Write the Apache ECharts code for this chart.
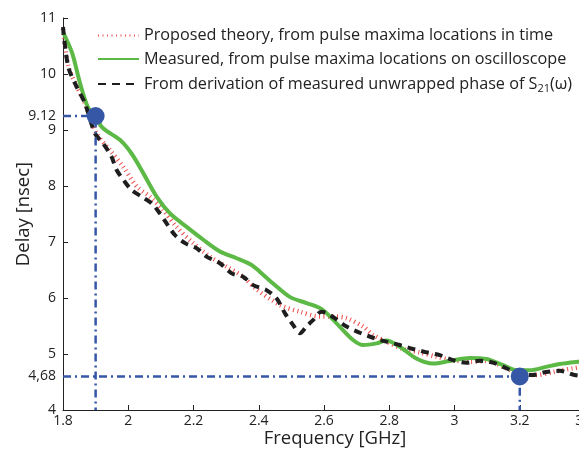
<!DOCTYPE html>
<html>
<head>
<meta charset="utf-8">
<script src="https://cdn.jsdelivr.net/npm/echarts@6/dist/echarts.min.js"></script>
<style>
html,body{margin:0;padding:0;background:#fff;}
#chart{width:579px;height:454px;}
</style>
</head>
<body>
<div id="chart"></div>
<script>
// ---- data ----
const xTicks = [1.8, 2, 2.2, 2.4, 2.6, 2.8, 3, 3.2, 3.4];
const yTicks = [4, 5, 6, 7, 8, 9, 10, 11];

const seriesNames = [
  'Proposed theory, from pulse maxima locations in time',
  'Measured, from pulse maxima locations on oscilloscope',
  'From derivation of measured unwrapped phase of S'
];

// Proposed theory (red dotted)
const theoryFreq  = [1.80, 1.816, 1.842, 1.867, 1.903, 1.944, 1.985, 2.026, 2.066, 2.107, 2.148, 2.199, 2.250, 2.301, 2.352, 2.39, 2.465, 2.526, 2.587, 2.628, 2.669, 2.720, 2.750, 2.791, 2.842, 2.893, 2.945, 2.995, 3.047, 3.098, 3.159, 3.200, 3.251, 3.302, 3.363, 3.40];
const theoryDelay = [10.80, 10.15, 9.78, 9.48, 8.94, 8.64, 8.34, 7.99, 7.81, 7.57, 7.27, 6.98, 6.74, 6.56, 6.38, 6.17, 5.875, 5.755, 5.67, 5.67, 5.64, 5.49, 5.34, 5.22, 5.09, 5.03, 4.95, 4.89, 4.86, 4.875, 4.745, 4.64, 4.625, 4.68, 4.745, 4.78];

// Measured on oscilloscope (green solid)
const measFreq  = [1.80, 1.828, 1.852, 1.876, 1.896, 1.923, 1.975, 2.010, 2.046, 2.087, 2.128, 2.179, 2.230, 2.281, 2.332, 2.378, 2.403, 2.444, 2.495, 2.546, 2.587, 2.608, 2.648, 2.689, 2.720, 2.761, 2.791, 2.832, 2.883, 2.934, 2.985, 3.047, 3.098, 3.149, 3.190, 3.231, 3.281, 3.322, 3.378, 3.40];
const measDelay = [10.75, 10.375, 9.84, 9.41, 9.25, 9.03, 8.82, 8.58, 8.23, 7.81, 7.51, 7.27, 7.04, 6.83, 6.71, 6.59, 6.47, 6.26, 6.02, 5.91, 5.82, 5.73, 5.49, 5.25, 5.16, 5.19, 5.24, 5.13, 4.92, 4.83, 4.875, 4.93, 4.91, 4.80, 4.71, 4.71, 4.77, 4.82, 4.86, 4.87];

// Derivation of unwrapped phase (black dashed)
const phaseFreq  = [1.80, 1.816, 1.842, 1.867, 1.898, 1.923, 1.949, 1.964, 1.985, 2.010, 2.041, 2.072, 2.097, 2.118, 2.143, 2.174, 2.209, 2.240, 2.281, 2.317, 2.352, 2.383, 2.424, 2.455, 2.480, 2.505, 2.526, 2.546, 2.567, 2.592, 2.608, 2.633, 2.669, 2.710, 2.750, 2.791, 2.832, 2.873, 2.914, 2.955, 2.995, 3.036, 3.077, 3.118, 3.159, 3.200, 3.240, 3.281, 3.322, 3.368, 3.40];
const phaseDelay = [10.84, 10.13, 9.77, 9.48, 8.94, 8.76, 8.52, 8.29, 8.11, 7.93, 7.81, 7.69, 7.51, 7.33, 7.125, 6.98, 6.89, 6.74, 6.62, 6.44, 6.38, 6.23, 6.14, 5.99, 5.73, 5.52, 5.37, 5.49, 5.61, 5.755, 5.73, 5.64, 5.49, 5.38, 5.29, 5.22, 5.16, 5.09, 5.03, 4.98, 4.89, 4.845, 4.88, 4.845, 4.745, 4.64, 4.625, 4.68, 4.70, 4.625, 4.60];

// Annotated points (position as drawn) and their labels
const markFreq  = [1.9, 3.2];
const markDelay = [9.25, 4.6];
const markLabel = ['9.12', '4,68'];

// ---- build ----
const zip = (a, b) => a.map((v, i) => [v, b[i]]);
const FONT = 'Open Sans';
const blue = '#3656a6';

const guideSeries = markFreq.map((f, i) => ({
  type: 'line', silent: true, symbol: 'none', z: 5,
  data: [[xTicks[0], markDelay[i]], [f, markDelay[i]], [f, yTicks[0]]],
  lineStyle: { color: blue, width: 2.5, type: [8, 4, 2, 4] }
}));

const chart = echarts.init(document.getElementById('chart'), null, { renderer: 'canvas' });
chart.setOption({
  animation: false,
  backgroundColor: '#fff',
  grid: { left: 63, right: -6, top: 18, bottom: 44, containLabel: false, outerBoundsMode: 'none' },
  legend: {
    orient: 'vertical', left: 97, top: 27, padding: 0,
    itemWidth: 41, itemHeight: 14, itemGap: 6.5,
    itemStyle: { opacity: 0 },
    data: seriesNames,
    textStyle: {
      fontFamily: FONT, fontSize: 16.2, lineHeight: 17, color: '#222',
      rich: {
        t: { fontFamily: FONT, fontSize: 16.2, lineHeight: 17, color: '#222' },
        sub: { fontFamily: FONT, fontSize: 11, lineHeight: 17, color: '#222', padding: [9, 0, 0, 0] }
      }
    },
    formatter: (name) => name === seriesNames[2] ? '{t|' + name + '}{sub|21}{t|(ω)}' : name
  },
  xAxis: {
    type: 'value', min: xTicks[0], max: xTicks[xTicks.length - 1], interval: 0.2,
    name: 'Frequency [GHz]', nameLocation: 'middle', nameGap: 19, nameMoveOverlap: false,
    nameTextStyle: { fontFamily: FONT, fontSize: 18.5, color: '#222', padding: [0, 0, 0, 22] },
    axisLine: { lineStyle: { color: '#222', width: 1 } },
    axisTick: { inside: true, length: 5, lineStyle: { color: '#222' } },
    axisLabel: { fontFamily: FONT, fontSize: 14, color: '#222', margin: 4, showMaxLabel: true,
      formatter: v => String(+v.toFixed(1)) },
    splitLine: { show: false }
  },
  yAxis: {
    type: 'value', min: yTicks[0], max: yTicks[yTicks.length - 1], interval: 1,
    name: 'Delay [nsec]', nameLocation: 'middle', nameGap: 30, nameMoveOverlap: false,
    nameTextStyle: { fontFamily: FONT, fontSize: 18.5, color: '#222' },
    axisLine: { show: true, lineStyle: { color: '#222', width: 1 } },
    axisTick: { show: true, inside: true, length: 5, lineStyle: { color: '#222' }, customValues: yTicks },
    axisLabel: { fontFamily: FONT, fontSize: 14, color: '#222', margin: 7,
      customValues: yTicks.concat(markDelay),
      formatter: v => {
        const k = markDelay.findIndex(d => Math.abs(d - v) < 1e-6);
        return k >= 0 ? markLabel[k] : String(+v.toFixed(2));
      } },
    splitLine: { show: false }
  },
  series: [
    { name: seriesNames[0], type: 'line', symbol: 'none', smooth: 0.3, z: 2,
      data: zip(theoryFreq, theoryDelay),
      lineStyle: { color: '#ee4a4a', width: 4.5, type: [1, 3.5], cap: 'butt' },
      itemStyle: { color: '#ee4a4a' } },
    { name: seriesNames[1], type: 'line', symbol: 'none', smooth: 0.3, z: 3,
      data: zip(measFreq, measDelay),
      lineStyle: { color: '#5cb946', width: 4 },
      itemStyle: { color: '#5cb946' } },
    { name: seriesNames[2], type: 'line', symbol: 'none', smooth: 0.3, z: 4,
      data: zip(phaseFreq, phaseDelay),
      lineStyle: { color: '#1e1e1e', width: 4, type: [8, 6], cap: 'butt' },
      itemStyle: { color: '#1e1e1e' } },
    ...guideSeries,
    { type: 'scatter', silent: true, z: 10, symbol: 'circle', symbolSize: 18,
      data: zip(markFreq, markDelay),
      itemStyle: { color: blue, opacity: 1 } }
  ]
});
</script>
</body>
</html>
